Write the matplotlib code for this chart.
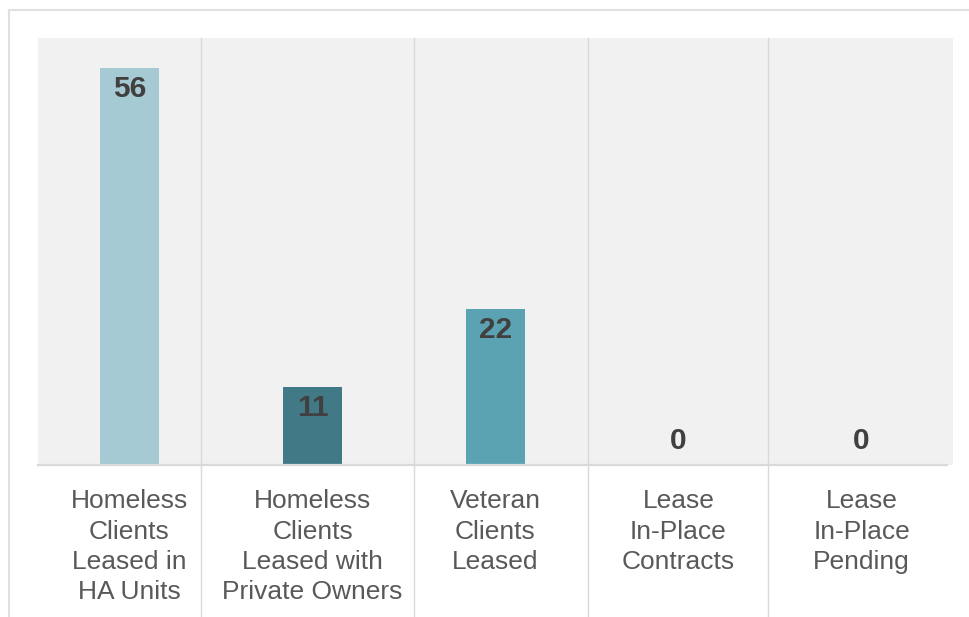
import matplotlib
matplotlib.use("Agg")
import matplotlib.pyplot as plt
from matplotlib.lines import Line2D

categories = ["Homeless\nClients\nLeased in\nHA Units",
              "Homeless\nClients\nLeased with\nPrivate Owners",
              "Veteran\nClients\nLeased",
              "Lease\nIn-Place\nContracts",
              "Lease\nIn-Place\nPending"]
values = [56, 11, 22, 0, 0]
bar_colors = ["#a6cad3", "#417a86", "#5ba2b3", "#5ba2b3", "#5ba2b3"]

W, H = 969, 617
fig = plt.figure(figsize=(W / 100, H / 100), dpi=100)
fig.patch.set_facecolor("white")
plt.rcParams['font.family'] = ['Liberation Sans', 'DejaVu Sans']

def fx(px):
    return px / W

def fy(py):
    return 1 - py / H

ax = fig.add_axes([fx(38), fy(465), fx(953) - fx(38), fy(38) - fy(465)])
ax.set_facecolor("#f1f1f1")
x = list(range(len(categories)))
ax.bar(x, values, width=0.317, color=bar_colors, zorder=2)
ax.set_xlim(-0.5, len(categories) - 0.5)
ax.set_ylim(0, 60.2)
for s in ax.spines.values():
    s.set_visible(False)
ax.set_yticks([])
ax.set_xticks(x)
ax.set_xticklabels(categories, fontsize=19, color="#595959", linespacing=1.33)
ax.tick_params(axis="x", length=0, pad=17.5)

# baseline
ax.plot([0, (947 - 38) / (953 - 38)], [0, 0], transform=ax.transAxes,
        color="#d9d9d9", lw=1.6, clip_on=False, zorder=3)

# value labels
px_per_unit = (465 - 38) / 60.2
for xi, v in zip(x, values):
    if v * px_per_unit > 50:
        ax.annotate(str(v), (xi, v), xytext=(0, -21), textcoords="offset pixels",
                    ha="center", va="center", fontsize=21.5, fontweight="bold",
                    color="#404040", zorder=4)
    else:
        ax.annotate(str(v), (xi, 0), xytext=(0, 24), textcoords="offset pixels",
                    ha="center", va="center", fontsize=21.5, fontweight="bold",
                    color="#404040", zorder=4)

# decorative separators and frame
for sx in [201, 414, 588, 768]:
    fig.add_artist(Line2D([fx(sx), fx(sx)], [fy(38), fy(617)], color="#d9d9d9", lw=1.0, zorder=5))
fig.add_artist(Line2D([fx(9), fx(969)], [fy(10), fy(10)], color="#e0e0e0", lw=1.5))
fig.add_artist(Line2D([fx(9), fx(9)], [fy(10), fy(617)], color="#e0e0e0", lw=1.5))

fig.savefig("out.png", dpi=100, facecolor="white")
